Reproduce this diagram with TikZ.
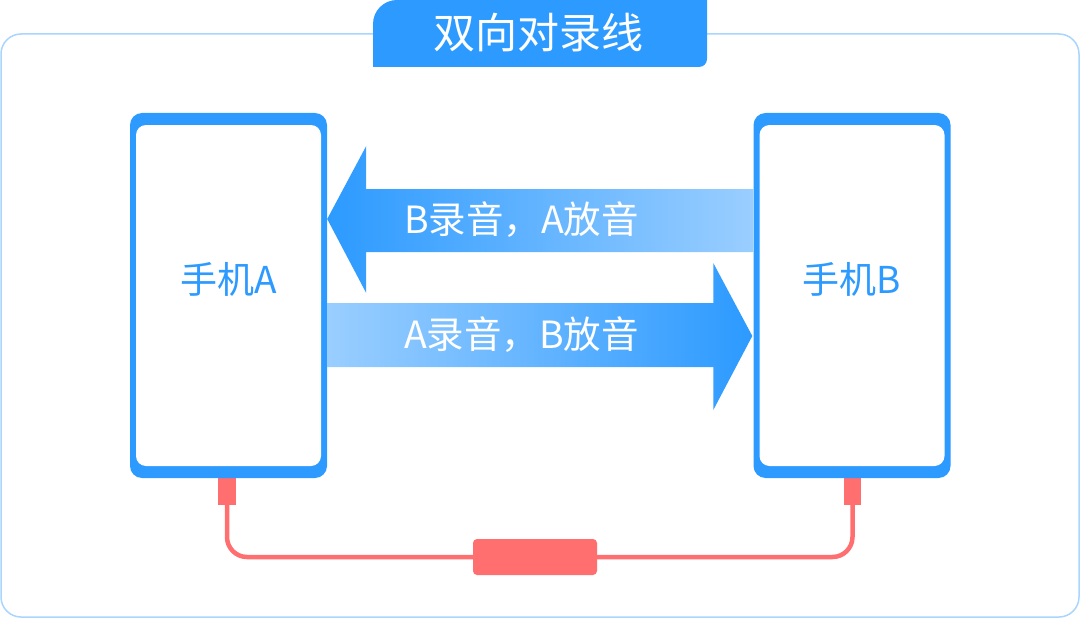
\documentclass[tikz,border=0pt]{standalone}
\usepackage{fontspec}
\newfontfamily\cjk{Noto Sans CJK SC}
\usetikzlibrary{calc}
\definecolor{ablue}{HTML}{2C9AFF}
\definecolor{alight}{HTML}{9ACEFF}
\definecolor{aframe}{HTML}{A9D5FF}
\definecolor{cred}{HTML}{FF6F6F}

\begin{document}
\begin{tikzpicture}[x=1pt,y=-1pt,
    phone/.style={fill=ablue,rounded corners=12pt,minimum width=197pt,minimum height=365pt,inner sep=0pt},
    screen/.style={fill=white,rounded corners=10pt,minimum width=185pt,minimum height=341pt,inner sep=0pt},
    lbl/.style={text=ablue,font=\cjk\fontsize{37}{41}\selectfont,inner sep=0pt},
    msg/.style={text=white,font=\cjk\fontsize{37.5}{41}\selectfont,inner sep=0pt},
    plug/.style={fill=cred,minimum width=18pt,minimum height=30pt,inner sep=0pt},
    cable/.style={draw=cred,line width=4.5pt,rounded corners=20pt}]%
    \useasboundingbox (0,0) rectangle (1080,618);%
    % frame and title tab
    \draw[aframe,line width=1.5pt,rounded corners=20pt] (1,34) rectangle (1079,617);%
    \fill[ablue] (373,67) -- (373,24) .. controls (373,10.7) and (383.7,0) .. (397,0)
      -- (707,0) -- (707,59) .. controls (707,63.4) and (703.4,67) .. (699,67) -- cycle;%
    \node[text=white,font=\cjk\fontsize{42}{46}\selectfont,inner sep=0pt] (title) at (538,33) {双向对录线};%
    % plugs and cable
    \node[plug] (plugA) at (227,490) {};%
    \node[plug,minimum width=17pt] (plugB) at (852.5,490) {};%
    \node[fill=cred,rounded corners=4pt,minimum width=124pt,minimum height=36pt,inner sep=0pt] (box) at (535,557) {};%
    \draw[cable] (plugA.south) |- (box.west);%
    \draw[cable] (box.east) -| (plugB.south);%
    % phones
    \node[phone] (phoneA) at (228.5,295.5) {};%
    \node[screen] (screenA) at (phoneA.center) {};%
    \node[lbl,yshift=16pt] (nameA) at (phoneA.center) {手机A};%
    \node[phone] (phoneB) at (852,295.5) {};%
    \node[screen] (screenB) at (phoneB.center) {};%
    \node[lbl,yshift=16pt] (nameB) at (phoneB.center) {手机B};%
    % arrows
    \coordinate (ba) at ($(phoneA.east)+(0,-76.5)$);%
    \coordinate (ab) at ($(phoneB.west)+(-1,40.5)$);%
    \shade[left color=ablue,right color=alight] (ba) -- ++(39,-73) -- ++(0,43)
      -- ($(ba -| phoneB.west)+(0,-30)$) -- ++(0,63) -- ($(ba)+(39,33)$) -- ++(0,41) -- cycle;%
    \shade[left color=alight,right color=ablue] (ab) -- ++(-39,-73) -- ++(0,40)
      -- ($(ab -| phoneA.east)+(0,-33)$) -- ++(0,64) -- ($(ab)+(-39,31)$) -- ++(0,43) -- cycle;%
    \node[msg] (msgBA) at (521.5,220) {B录音，A放音};%
    \node[msg] (msgAB) at (521.5,335) {A录音，B放音};%
\end{tikzpicture}
\end{document}
